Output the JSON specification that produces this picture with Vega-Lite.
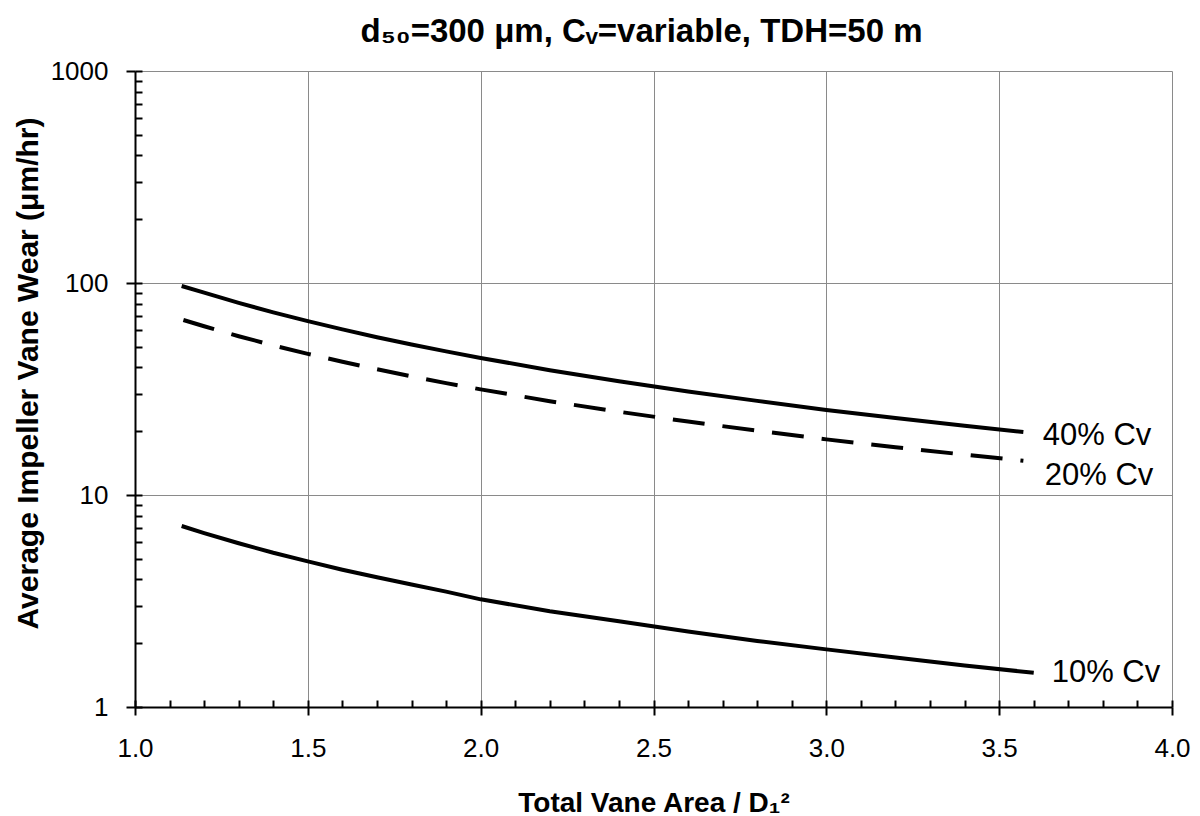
{
  "$schema": "https://vega.github.io/schema/vega-lite/v6.json",
  "width": 1037,
  "height": 636,
  "autosize": "none",
  "padding": {"left": 135, "top": 71, "right": 28, "bottom": 109},
  "background": "white",
  "title": {
    "text": "d₅₀=300 μm, Cᵥ=variable, TDH=50 m",
    "font": "Liberation Sans",
    "fontSize": 33,
    "fontWeight": "bold",
    "color": "black",
    "anchor": "middle",
    "frame": "group",
    "baseline": "alphabetic",
    "dx": -12,
    "offset": -17
  },
  "config": {
    "view": {"stroke": null},
    "axis": {
      "labelFont": "Liberation Sans",
      "titleFont": "Liberation Sans",
      "labelColor": "black",
      "titleColor": "black",
      "tickColor": "black",
      "domainColor": "black"
    }
  },
  "datasets": {
    "curves": [
      {"series": "40% Cv", "x": 1.135, "y": 96.8},
      {"series": "40% Cv", "x": 1.2, "y": 90.1},
      {"series": "40% Cv", "x": 1.3, "y": 80.6},
      {"series": "40% Cv", "x": 1.4, "y": 72.7},
      {"series": "40% Cv", "x": 1.5, "y": 66.1},
      {"series": "40% Cv", "x": 1.6, "y": 60.4},
      {"series": "40% Cv", "x": 1.7, "y": 55.5},
      {"series": "40% Cv", "x": 1.8, "y": 51.3},
      {"series": "40% Cv", "x": 1.9, "y": 47.6},
      {"series": "40% Cv", "x": 2.0, "y": 44.3},
      {"series": "40% Cv", "x": 2.2, "y": 38.8},
      {"series": "40% Cv", "x": 2.4, "y": 34.4},
      {"series": "40% Cv", "x": 2.6, "y": 30.8},
      {"series": "40% Cv", "x": 2.8, "y": 27.8},
      {"series": "40% Cv", "x": 3.0, "y": 25.2},
      {"series": "40% Cv", "x": 3.2, "y": 23.1},
      {"series": "40% Cv", "x": 3.4, "y": 21.2},
      {"series": "40% Cv", "x": 3.57, "y": 19.8},
      {"series": "20% Cv", "x": 1.14, "y": 66.9},
      {"series": "20% Cv", "x": 1.2, "y": 62.5},
      {"series": "20% Cv", "x": 1.3, "y": 56.1},
      {"series": "20% Cv", "x": 1.4, "y": 50.8},
      {"series": "20% Cv", "x": 1.5, "y": 46.3},
      {"series": "20% Cv", "x": 1.6, "y": 42.5},
      {"series": "20% Cv", "x": 1.7, "y": 39.2},
      {"series": "20% Cv", "x": 1.8, "y": 36.3},
      {"series": "20% Cv", "x": 1.9, "y": 33.7},
      {"series": "20% Cv", "x": 2.0, "y": 31.5},
      {"series": "20% Cv", "x": 2.2, "y": 27.7},
      {"series": "20% Cv", "x": 2.4, "y": 24.7},
      {"series": "20% Cv", "x": 2.6, "y": 22.2},
      {"series": "20% Cv", "x": 2.8, "y": 20.1},
      {"series": "20% Cv", "x": 3.0, "y": 18.3},
      {"series": "20% Cv", "x": 3.2, "y": 16.8},
      {"series": "20% Cv", "x": 3.4, "y": 15.5},
      {"series": "20% Cv", "x": 3.57, "y": 14.5},
      {"series": "10% Cv", "x": 1.135, "y": 7.14},
      {"series": "10% Cv", "x": 1.2, "y": 6.61},
      {"series": "10% Cv", "x": 1.3, "y": 5.92},
      {"series": "10% Cv", "x": 1.4, "y": 5.34},
      {"series": "10% Cv", "x": 1.5, "y": 4.86},
      {"series": "10% Cv", "x": 1.6, "y": 4.44},
      {"series": "10% Cv", "x": 1.7, "y": 4.09},
      {"series": "10% Cv", "x": 1.8, "y": 3.78},
      {"series": "10% Cv", "x": 1.9, "y": 3.5},
      {"series": "10% Cv", "x": 2.0, "y": 3.22},
      {"series": "10% Cv", "x": 2.2, "y": 2.83},
      {"series": "10% Cv", "x": 2.4, "y": 2.54},
      {"series": "10% Cv", "x": 2.6, "y": 2.27},
      {"series": "10% Cv", "x": 2.8, "y": 2.05},
      {"series": "10% Cv", "x": 3.0, "y": 1.87},
      {"series": "10% Cv", "x": 3.2, "y": 1.71},
      {"series": "10% Cv", "x": 3.4, "y": 1.57},
      {"series": "10% Cv", "x": 3.6, "y": 1.45}
    ],
    "labels": [
      {"label": "40% Cv", "x": 3.626, "y": 17.2},
      {"label": "20% Cv", "x": 3.632, "y": 11.15},
      {"label": "10% Cv", "x": 3.652, "y": 1.31}
    ]
  },
  "resolve": {"axis": {"x": "independent", "y": "independent"}},
  "layer": [
    {
      "data": {"name": "curves"},
      "transform": [{"filter": "datum.series !== '20% Cv'"}],
      "mark": {"type": "line", "color": "black", "strokeWidth": 4, "strokeCap": "butt"},
      "encoding": {
        "x": {
          "field": "x", "type": "quantitative",
          "scale": {"domain": [1, 4], "nice": false, "zero": false},
          "axis": {
            "orient": "bottom",
            "values": [1, 1.5, 2, 2.5, 3, 3.5, 4],
            "format": ".1f",
            "grid": true, "gridColor": "#8a8a8a", "gridWidth": 1,
            "domainWidth": 2, "tickSize": 8, "tickWidth": 2,
            "labelFontSize": 26, "labelPadding": 20, "labelFlush": false,
            "title": "Total Vane Area / D₁²",
            "titleFontSize": 28, "titleFontWeight": "bold",
            "titleBaseline": "alphabetic", "titleY": 104
          }
        },
        "y": {
          "field": "y", "type": "quantitative",
          "scale": {"type": "log", "domain": [1, 1000], "nice": false},
          "axis": {
            "orient": "left",
            "values": [1, 10, 100, 1000],
            "format": "d",
            "grid": true, "gridColor": "#8a8a8a", "gridWidth": 1,
            "domainWidth": 2, "tickSize": 9, "tickWidth": 2,
            "labelFontSize": 26, "labelPadding": 18, "labelFlush": false,
            "title": "Average Impeller Vane Wear (μm/hr)",
            "titleFontSize": 30, "titleFontWeight": "bold",
            "titleAngle": -90, "titleAlign": "center",
            "titleBaseline": "alphabetic", "titleX": -98, "titleY": 302
          }
        },
        "detail": {"field": "series"}
      }
    },
    {
      "data": {"name": "curves"},
      "transform": [{"filter": "datum.series === '20% Cv'"}],
      "mark": {"type": "line", "color": "black", "strokeWidth": 4, "strokeDash": [32, 18], "strokeCap": "butt"},
      "encoding": {
        "x": {
          "field": "x", "type": "quantitative",
          "scale": {"domain": [1, 4], "nice": false, "zero": false},
          "axis": {
            "orient": "bottom",
            "values": [1.1, 1.2, 1.3, 1.4, 1.6, 1.7, 1.8, 1.9, 2.1, 2.2, 2.3, 2.4, 2.6, 2.7, 2.8, 2.9, 3.1, 3.2, 3.3, 3.4, 3.6, 3.7, 3.8, 3.9],
            "grid": false, "domain": false, "labels": false,
            "tickSize": 7, "tickWidth": 2, "offset": -7, "title": null
          }
        },
        "y": {
          "field": "y", "type": "quantitative",
          "scale": {"type": "log", "domain": [1, 1000], "nice": false},
          "axis": {
            "orient": "left",
            "values": [2, 3, 4, 5, 6, 7, 8, 9, 20, 30, 40, 50, 60, 70, 80, 90, 200, 300, 400, 500, 600, 700, 800, 900],
            "grid": false, "domain": false, "labels": false,
            "tickSize": 7, "tickWidth": 2, "offset": -7, "title": null
          }
        }
      }
    },
    {
      "data": {"name": "labels"},
      "mark": {"type": "text", "font": "Liberation Sans", "fontSize": 31, "color": "black", "align": "left", "baseline": "alphabetic"},
      "encoding": {
        "x": {
          "field": "x", "type": "quantitative",
          "scale": {"domain": [1, 4], "nice": false, "zero": false},
          "axis": {
            "orient": "bottom",
            "values": [1, 1.5, 2, 2.5, 3, 3.5, 4],
            "grid": false, "domain": false, "labels": false,
            "tickSize": 7, "tickWidth": 2, "offset": -7, "title": null
          }
        },
        "y": {
          "field": "y", "type": "quantitative",
          "scale": {"type": "log", "domain": [1, 1000], "nice": false},
          "axis": {
            "orient": "left",
            "values": [1, 10, 100, 1000],
            "grid": false, "domain": false, "labels": false,
            "tickSize": 7, "tickWidth": 2, "offset": -7, "title": null
          }
        },
        "text": {"field": "label"}
      }
    }
  ]
}
